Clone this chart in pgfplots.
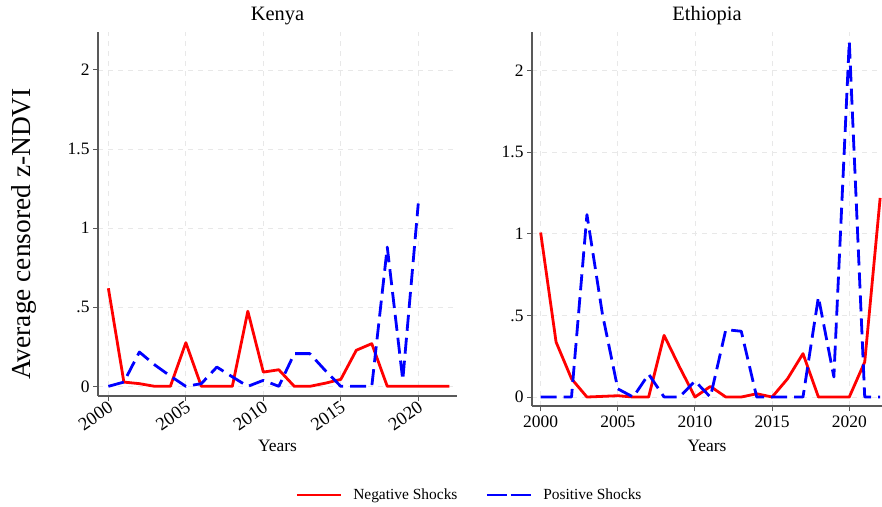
\documentclass[border=0pt]{standalone}
\usepackage{fontspec}
\setmainfont{Liberation Serif}
\usepackage{pgfplots}
\usepackage{pgfplotstable}
\pgfplotsset{compat=1.18}

\pgfplotstableread{
year neg pos
2000 0.620 0.000
2001 0.027 0.027
2002 0.017 0.217
2003 0.000 0.135
2004 0.000 0.065
2005 0.276 0.000
2006 0.000 0.017
2007 0.000 0.122
2008 0.000 0.060
2009 0.475 0.000
2010 0.090 0.038
2011 0.105 0.000
2012 0.000 0.207
2013 0.000 0.207
2014 0.020 0.100
2015 0.044 0.000
2016 0.228 0.000
2017 0.270 0.000
2018 0.000 0.880
2019 0.000 0.040
2020 0.000 1.156
2021 0.000 nan
2022 0.000 nan
}\kenya

\pgfplotstableread{
year neg pos
2000 1.008 0.000
2001 0.337 0.000
2002 0.112 0.000
2003 0.000 1.118
2004 0.004 0.510
2005 0.008 0.050
2006 0.000 0.000
2007 0.000 0.140
2008 0.378 0.000
2009 0.184 0.000
2010 0.000 0.098
2011 0.065 0.000
2012 0.000 0.413
2013 0.000 0.403
2014 0.020 0.000
2015 0.000 0.000
2016 0.112 0.000
2017 0.266 0.000
2018 0.000 0.613
2019 0.000 0.123
2020 0.000 2.180
2021 0.215 0.000
2022 1.220 0.000
}\ethiopia

\pgfplotsset{
  panel/.style={
    scale only axis,
    axis lines*=left,
    axis line style={draw=black!65, line width=1.1bp},
    tick align=outside,
    major tick length=5bp,
    tick style={draw=black!65, line width=1bp},
    xtick={2000,2005,2010,2015,2020},
    xticklabels={2000,2005,2010,2015,2020},
    ytick={0,0.5,1,1.5,2},
    yticklabels={0,.5,1,1.5,2},
    grid=major,
    major grid style={draw=black!9, dash pattern=on 5bp off 5bp, line width=0.8bp},
    tick label style={font=\fontsize{17.5}{19}\selectfont},
    xlabel style={font=\fontsize{17.5}{19}\selectfont},
    title style={font=\fontsize{20.5}{22}\selectfont, at={(axis description cs:0.5,1)}, anchor=base, yshift=6bp},
    xlabel={Years},
  },
  negs/.style={red, line width=2.8bp, line join=round, no marks},
  poss/.style={blue, line width=2.8bp, line join=round, no marks, dash pattern=on 16bp off 7bp},
}

\begin{document}
\begin{tikzpicture}
\useasboundingbox (0,0) rectangle (882bp,507bp);

\begin{axis}[panel,
  at={(98bp,111bp)}, anchor=south west,
  width=359bp, height=364bp,
  xmin=1999.33, xmax=2022.5,
  ymin=-0.061, ymax=2.24,
  title={Kenya},
  xticklabel style={rotate=35, anchor=north east, inner sep=0.5bp, font=\fontsize{18.5}{20}\selectfont, yshift=2bp},
  xlabel style={at={(axis description cs:0.5,0)}, anchor=base, yshift=-55bp},
  ylabel={Average censored z-NDVI},
  ylabel style={font=\fontsize{27.5}{29}\selectfont, at={(axis description cs:-0.206,0.445)}, anchor=center},
]
\addplot[negs] table[x=year, y=neg] {\kenya};
\addplot[poss] table[x=year, y=pos] {\kenya};
\end{axis}

\begin{axis}[panel,
  at={(532bp,101bp)}, anchor=south west,
  width=350bp, height=374bp,
  xmin=1999.44, xmax=2022.12,
  ymin=-0.055, ymax=2.237,
  title={Ethiopia},
  xticklabel style={inner sep=1.5bp, yshift=-3bp},
  xlabel style={at={(axis description cs:0.5,0)}, anchor=base, yshift=-45bp},
  legend style={at={(-0.1786,-0.238)}, anchor=center, draw=none, fill=none,
    legend columns=2, font=\fontsize{15.5}{17}\selectfont,
    /tikz/every odd column/.append style={column sep=9bp},
    /tikz/every even column/.append style={column sep=26bp}},
  legend image code/.code={\draw[#1] (0bp,0bp) -- (44bp,0bp);},
]
\addplot[negs, forget plot] table[x=year, y=neg] {\ethiopia};
\addplot[poss, forget plot] table[x=year, y=pos] {\ethiopia};
\addlegendimage{red, line width=2.8bp}
\addlegendentry{Negative Shocks}
\addlegendimage{blue, line width=2.8bp, dash pattern=on 20bp off 4bp}
\addlegendentry{Positive Shocks}
\end{axis}
\end{tikzpicture}
\end{document}
